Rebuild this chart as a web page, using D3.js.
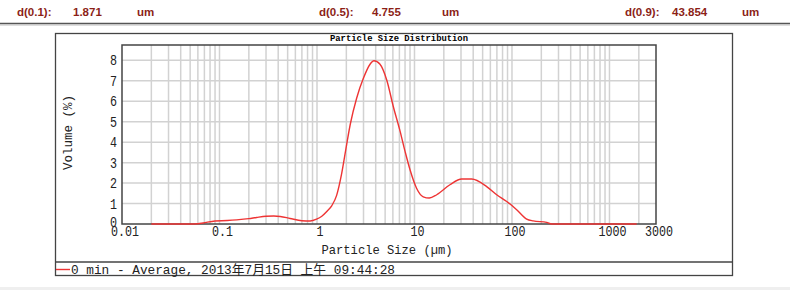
<!DOCTYPE html>
<html>
<head>
<meta charset="utf-8">
<script src="https://cdn.jsdelivr.net/npm/d3@7"></script>
<style>
  body { margin: 0; background: #fff; }
</style>
</head>
<body>
<div id="chart"></div>
<script>
// Particle size (um) and volume (%)
const sizes   = [0.02, 0.03, 0.04, 0.05, 0.06, 0.068, 0.09, 0.12, 0.15, 0.2, 0.24, 0.3, 0.36, 0.42, 0.53, 0.7, 0.85, 0.99, 1.12, 1.26, 1.42, 1.59, 1.78, 2.0, 2.2, 2.55, 2.99, 3.5, 3.84, 4.43, 5.19, 6.07, 7.1, 8.0, 9.0, 10.5, 12.3, 14.2, 16.9, 23.1, 30.5, 38.6, 55, 69.7, 88.3, 111.7, 141.5, 165, 227, 255, 500, 1900];
const volumes = [0, 0, 0, 0, 0.01, 0.05, 0.15, 0.17, 0.2, 0.26, 0.32, 0.38, 0.39, 0.37, 0.27, 0.16, 0.15, 0.24, 0.38, 0.61, 0.9, 1.4, 2.4, 3.8, 4.9, 6.15, 7.12, 7.81, 7.98, 7.81, 7.04, 5.73, 4.55, 3.55, 2.65, 1.75, 1.33, 1.27, 1.43, 1.92, 2.2, 2.2, 1.83, 1.43, 1.1, 0.7, 0.24, 0.15, 0.08, 0, 0, 0];

const xTicks = [0.01, 0.1, 1, 10, 100, 1000, 3000];
const xTickLabels = ["0.01", "0.1", "1", "10", "100", "1000", "3000"];
const yTicks = [0, 1, 2, 3, 4, 5, 6, 7, 8];

const statNames  = ["d(0.1):", "d(0.5):", "d(0.9):"];
const statValues = ["1.871", "4.755", "43.854"];
const statUnit = "um";

const legendLabel = "0 min - Average, 2013年7月15日 上午 09:44:28";

const W = 790, H = 290;
const plot = {left: 122, right: 656, top: 45, bottom: 224};

const svg = d3.select("#chart")
    .append("svg")
    .attr("width", W)
    .attr("height", H)
    .style("display", "block");

svg.append("rect").attr("width", W).attr("height", H).attr("fill", "#fff");

// header with the d-values
const header = svg.append("g")
    .attr("fill", "#8c1f18")
    .attr("font-family", "Liberation Sans, Arial, sans-serif")
    .attr("font-weight", "bold")
    .attr("font-size", "11.5px");
const nameX = [17, 319, 625], valX = [73, 372, 672], unitX = [137, 442, 742];
statNames.forEach((n, i) => {
    header.append("text").attr("x", nameX[i]).attr("y", 16).text(n);
    header.append("text").attr("x", valX[i]).attr("y", 16).text(statValues[i]);
    header.append("text").attr("x", unitX[i]).attr("y", 16).text(statUnit);
});
svg.append("line").attr("x1", 0).attr("x2", W).attr("y1", 23.5).attr("y2", 23.5)
    .attr("stroke", "#555").attr("stroke-width", 1.5);
svg.append("line").attr("x1", 0).attr("x2", W).attr("y1", 25).attr("y2", 25)
    .attr("stroke", "#bbb").attr("stroke-width", 1);

// outer panel
svg.append("rect")
    .attr("x", 55.5).attr("y", 33.5)
    .attr("width", 677).attr("height", 242)
    .attr("fill", "none").attr("stroke", "#444").attr("stroke-width", 1.3);
svg.append("line").attr("x1", 55.5).attr("x2", 732.5).attr("y1", 262).attr("y2", 262)
    .attr("stroke", "#444").attr("stroke-width", 1.3);

// bottom grey strip
svg.append("rect").attr("x", 0).attr("y", 287).attr("width", W).attr("height", 3).attr("fill", "#efefef");

// scales
const x = d3.scaleLog().domain([0.01, 3000]).range([plot.left, plot.right]);
const y = d3.scaleLinear().domain([0, 8.75]).range([plot.bottom, plot.top]);

// grid
const grid = svg.append("g").attr("stroke", "#d2d2d2").attr("stroke-width", 1.5);
grid.selectAll("line.v")
    .data(x.ticks().filter(t => t > 0.01 && t < 3000))
    .enter().append("line")
    .attr("x1", d => x(d)).attr("x2", d => x(d))
    .attr("y1", plot.top).attr("y2", plot.bottom);
grid.selectAll("line.h")
    .data(yTicks.filter(t => t > 0))
    .enter().append("line")
    .attr("x1", plot.left).attr("x2", plot.right)
    .attr("y1", d => y(d)).attr("y2", d => y(d));

// plot frame
svg.append("rect")
    .attr("x", plot.left).attr("y", plot.top)
    .attr("width", plot.right - plot.left).attr("height", plot.bottom - plot.top)
    .attr("fill", "none").attr("stroke", "#444").attr("stroke-width", 1.5);

// title
svg.append("text")
    .attr("x", 399).attr("y", 41)
    .attr("text-anchor", "middle")
    .attr("font-family", "Liberation Mono, monospace")
    .attr("font-weight", "bold")
    .attr("font-size", "9px")
    .attr("textLength", 138)
    .attr("lengthAdjust", "spacingAndGlyphs")
    .text("Particle Size Distribution");

// tick labels
const tickFont = "Liberation Mono, DejaVu Sans Mono, monospace";
svg.append("g").selectAll("text")
    .data(xTicks)
    .enter().append("text")
    .attr("x", d => x(d) + 3)
    .attr("y", 236)
    .attr("text-anchor", "middle")
    .attr("font-family", tickFont)
    .attr("font-size", "14px")
    .attr("fill", "#222")
    .attr("textLength", (d, i) => xTickLabels[i].length * 7)
    .attr("lengthAdjust", "spacingAndGlyphs")
    .text((d, i) => xTickLabels[i]);

svg.append("g").selectAll("text")
    .data(yTicks)
    .enter().append("text")
    .attr("x", 117)
    .attr("y", d => y(d) + (d === 0 ? 3 : 5))
    .attr("text-anchor", "end")
    .attr("font-family", tickFont)
    .attr("font-size", "14px")
    .attr("fill", "#222")
    .attr("textLength", 7)
    .attr("lengthAdjust", "spacingAndGlyphs")
    .text(d => d);

// axis titles
svg.append("text")
    .attr("x", 387).attr("y", 254)
    .attr("text-anchor", "middle")
    .attr("font-family", tickFont)
    .attr("font-size", "13px")
    .attr("fill", "#222")
    .attr("textLength", 131)
    .attr("lengthAdjust", "spacingAndGlyphs")
    .text("Particle Size (µm)");

svg.append("text")
    .attr("transform", `translate(72,${(plot.top + plot.bottom) / 2 - 2}) rotate(-90)`)
    .attr("text-anchor", "middle")
    .attr("font-family", tickFont)
    .attr("font-size", "13px")
    .attr("fill", "#222")
    .attr("textLength", 75)
    .attr("lengthAdjust", "spacingAndGlyphs")
    .text("Volume (%)");

// curve
const pts = sizes.map((s, i) => [s, volumes[i]]);
svg.append("path")
    .datum(pts)
    .attr("fill", "none")
    .attr("stroke", "#ee3434")
    .attr("stroke-width", 1.4)
    .attr("d", d3.line().x(d => x(d[0])).y(d => y(d[1])).curve(d3.curveMonotoneX));

// legend
svg.append("line").attr("x1", 56).attr("x2", 70).attr("y1", 269.5).attr("y2", 269.5)
    .attr("stroke", "#ee3434").attr("stroke-width", 1.4);
svg.append("text")
    .attr("x", 71).attr("y", 274)
    .attr("font-family", "Liberation Mono, Noto Sans CJK SC, monospace")
    .attr("font-size", "13px")
    .attr("fill", "#222")
    .attr("textLength", 324)
    .attr("lengthAdjust", "spacingAndGlyphs")
    .text(legendLabel);
</script>
</body>
</html>
